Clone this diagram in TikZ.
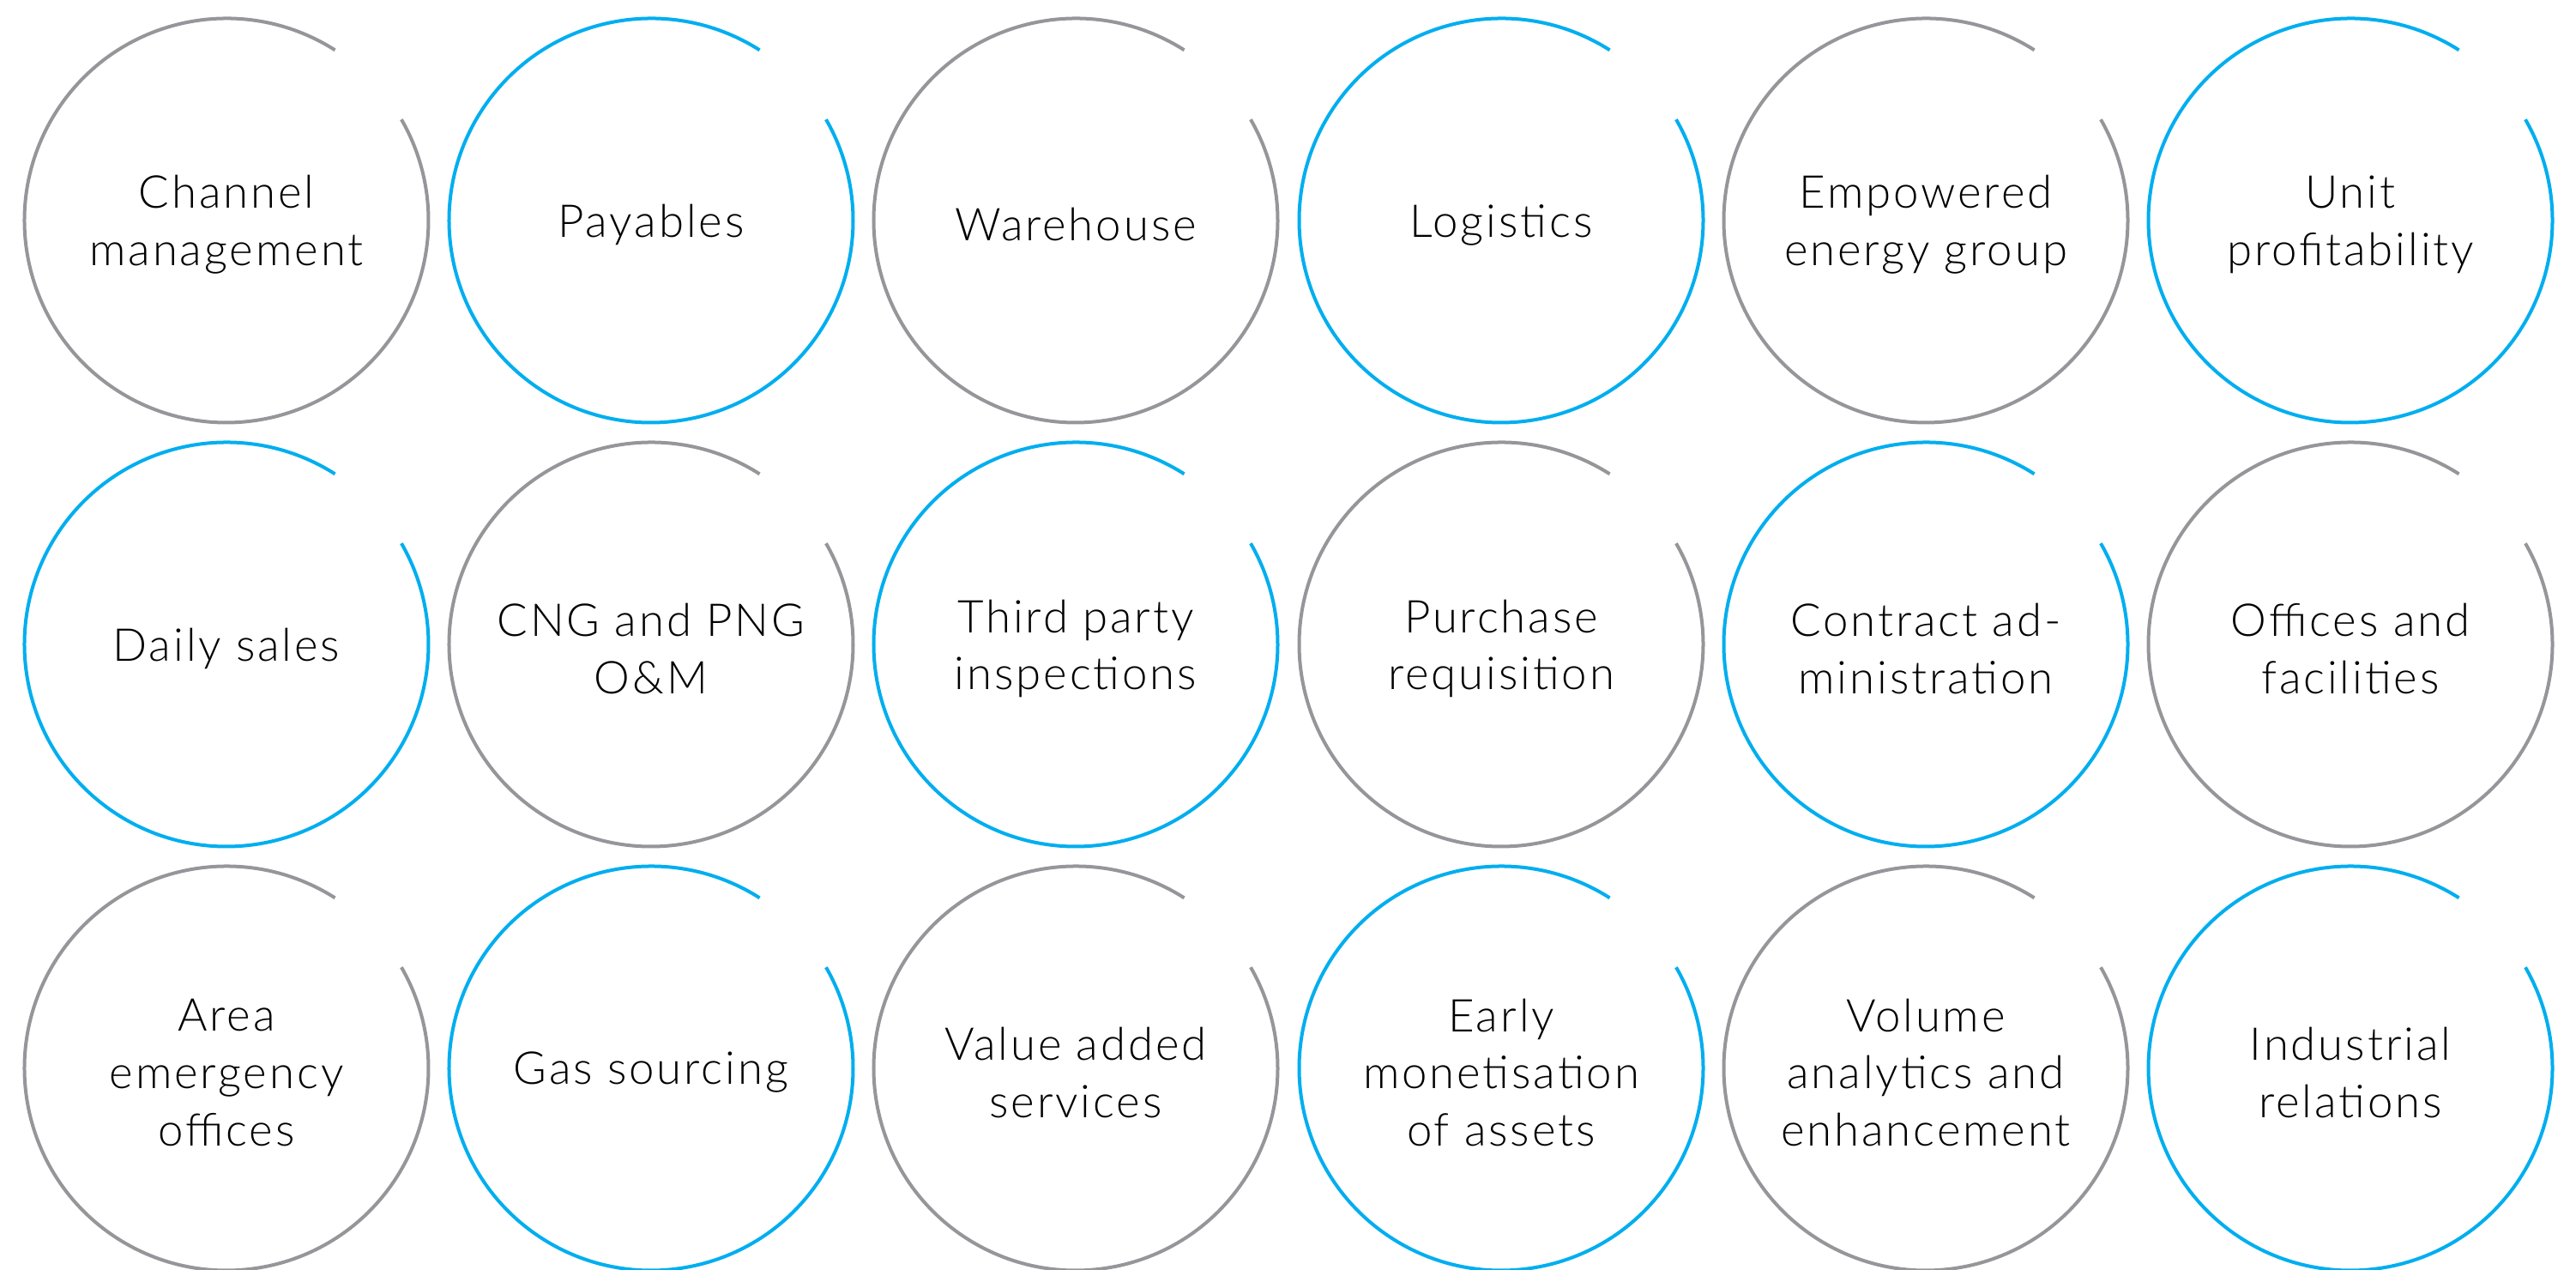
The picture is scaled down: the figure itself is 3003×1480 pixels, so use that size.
\documentclass[tikz,border=0pt]{standalone}
\usepackage{fontspec}
\setmainfont{Lato Light}[LetterSpace=5.5]
\definecolor{ringgray}{RGB}{150,150,154}
\definecolor{ringblue}{RGB}{0,174,239}
\tikzset{
  caption/.style={inner sep=0pt, outer sep=0pt, align=center,
    font=\fontsize{15}{19}\selectfont, text=black},
  ring/.style={line width=0.04cm}
}
\begin{document}
\begin{tikzpicture}[x=0.01cm,y=0.01cm]
\useasboundingbox (0,0) rectangle (3003,1480);
\foreach \i/\cx/\cy/\clr/\txt in {
  1/264/1223/ringgray/{Channel\\management},
  2/759/1223/ringblue/{Payables},
  3/1254/1223/ringgray/{Warehouse},
  4/1750/1223/ringblue/{Logistics},
  5/2245/1223/ringgray/{Empowered\\energy group},
  6/2740/1223/ringblue/{Unit\\profitability},
  7/264/729/ringblue/{Daily sales},
  8/759/729/ringgray/{CNG and PNG\\O\&M},
  9/1254/729/ringblue/{Third party\\inspections},
  10/1750/729/ringgray/{Purchase\\requisition},
  11/2245/729/ringblue/{Contract ad-\\ministration},
  12/2740/729/ringgray/{Offices and\\facilities},
  13/264/235/ringgray/{Area\\emergency\\offices},
  14/759/235/ringblue/{Gas sourcing},
  15/1254/235/ringgray/{Value added\\services},
  16/1750/235/ringblue/{Early\\monetisation\\of assets},
  17/2245/235/ringgray/{Volume\\analytics and\\enhancement},
  18/2740/235/ringblue/{Industrial\\relations}}
{
  \coordinate (p\i) at (\cx,\cy);
  \node[caption] (c\i) at ([yshift=-0.05cm]p\i) {\txt};
  \draw[ring, draw=\clr] ([shift={(57.5:235.5)}]p\i) arc[start angle=57.5, end angle=390, radius=235.5];
}
\end{tikzpicture}
\end{document}
